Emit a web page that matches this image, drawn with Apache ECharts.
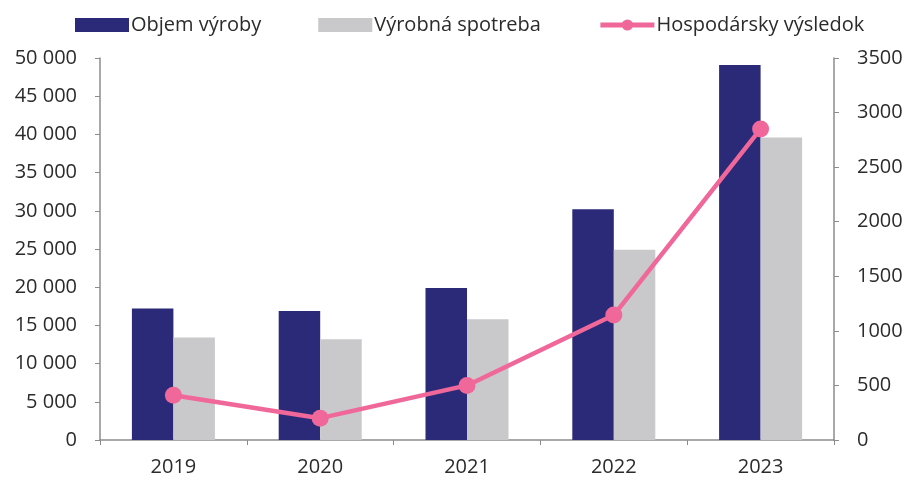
<!DOCTYPE html>
<html>
<head>
<meta charset="utf-8">
<script src="https://cdn.jsdelivr.net/npm/echarts@6/dist/echarts.min.js"></script>
<style>
html,body{margin:0;padding:0;background:#fff;}
#chart{width:907px;height:484px;}
</style>
</head>
<body>
<div id="chart"></div>
<script>
const categories = ['2019', '2020', '2021', '2022', '2023'];
const objemVyroby = [17200, 16900, 19900, 30200, 49100];
const vyrobnaSpotreba = [13400, 13200, 15800, 24900, 39600];
const hospodarskyVysledok = [410, 200, 500, 1145, 2850];
const seriesNames = ['Objem výroby', 'Výrobná spotreba', 'Hospodársky výsledok'];

const FONT = '"Open Sans", Lato, sans-serif';
const axisColor = '#8c8c8c';
const textColor = '#2b2b2b';
const pink = '#f0679a';

const chart = echarts.init(document.getElementById('chart'));
chart.setOption({
  animation: false,
  backgroundColor: '#fff',
  textStyle: { fontFamily: FONT },
  legend: {
    top: 10,
    left: 70,
    itemWidth: 54,
    itemHeight: 14,
    itemGap: 57,
    textStyle: { fontSize: 20, color: textColor, fontFamily: FONT, padding: [0, 0, 0, -3] },
    data: [
      { name: seriesNames[0], icon: 'rect' },
      { name: seriesNames[1], icon: 'rect' },
      { name: seriesNames[2], lineStyle: { width: 5 } }
    ]
  },
  grid: { left: 100, right: 73, top: 58, bottom: 44 },
  xAxis: {
    type: 'category',
    data: categories,
    boundaryGap: true,
    axisLine: { lineStyle: { color: axisColor, width: 1.5 } },
    axisTick: { show: true, alignWithLabel: false, length: 5, lineStyle: { color: axisColor } },
    axisLabel: { fontSize: 20, color: textColor, margin: 17, fontFamily: FONT }
  },
  yAxis: [
    {
      type: 'value',
      min: 0, max: 50000, interval: 5000,
      splitLine: { show: false },
      axisLine: { show: true, lineStyle: { color: axisColor, width: 1.5 } },
      axisTick: { show: true, length: 5, lineStyle: { color: axisColor } },
      axisLabel: {
        fontSize: 20, color: textColor, margin: 23, fontFamily: FONT,
        formatter: v => String(v).replace(/\B(?=(\d{3})+(?!\d))/g, ' ')
      }
    },
    {
      type: 'value',
      min: 0, max: 3500, interval: 500,
      splitLine: { show: false },
      axisLine: { show: true, lineStyle: { color: axisColor, width: 1.5 } },
      axisTick: { show: true, length: 5, lineStyle: { color: axisColor } },
      axisLabel: { fontSize: 20, color: textColor, margin: 23, fontFamily: FONT, formatter: v => String(v) }
    }
  ],
  series: [
    {
      name: seriesNames[0], type: 'bar', data: objemVyroby,
      barWidth: 41.5, barGap: '0%',
      itemStyle: { color: '#2b2a78' }
    },
    {
      name: seriesNames[1], type: 'bar', data: vyrobnaSpotreba,
      barWidth: 41.5, barGap: '0%',
      itemStyle: { color: '#c9c9cb' }
    },
    {
      name: seriesNames[2], type: 'line', yAxisIndex: 1, data: hospodarskyVysledok,
      symbol: 'circle', symbolSize: 17,
      lineStyle: { color: pink, width: 4.5 },
      itemStyle: { color: pink },
      z: 5
    }
  ]
});
</script>
</body>
</html>
